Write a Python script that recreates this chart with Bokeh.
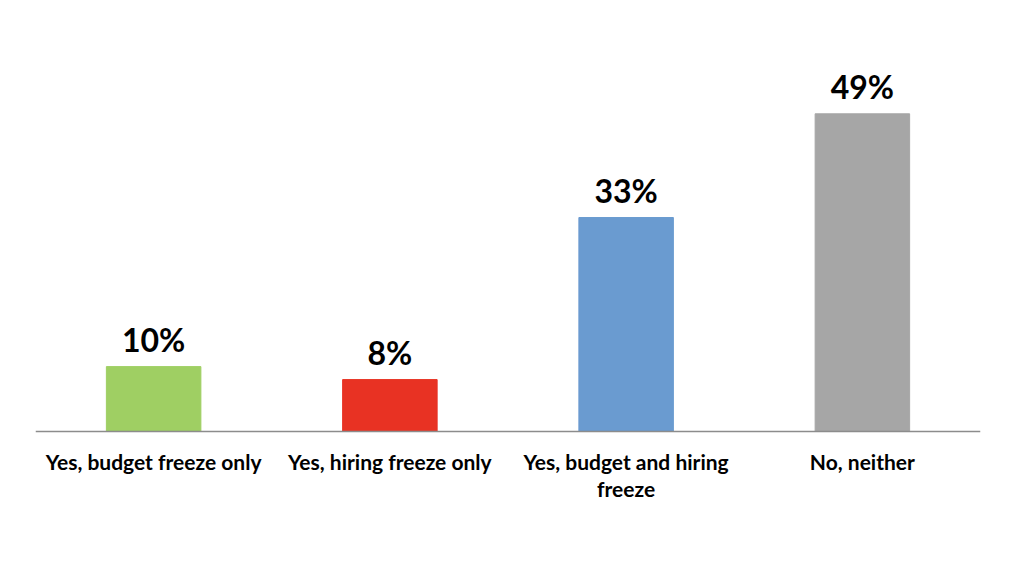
from bokeh.plotting import figure
from bokeh.models import ColumnDataSource, LabelSet, Span
from bokeh.core.properties import value
from bokeh.embed import file_html
from bokeh.resources import INLINE

categories = ["Yes, budget freeze only", "Yes, hiring freeze only",
              "Yes, budget and hiring freeze", "No, neither"]
tick_line1 = ["Yes, budget freeze only", "Yes, hiring freeze only",
              "Yes, budget and hiring", "No, neither"]
tick_line2 = ["", "", "freeze", ""]
values = [10, 8, 33, 49]
labels = ["10%", "8%", "33%", "49%"]
colors = ["#9FCF63", "#E83223", "#6A9BD0", "#A6A6A6"]

src = ColumnDataSource(dict(cat=categories, val=values, lab=labels, col=colors,
                            t1=tick_line1, t2=tick_line2, zero=[0] * len(values)))

p = figure(x_range=categories, y_range=(-19.6, 60), width=1008, height=558,
           output_backend="svg", toolbar_location=None,
           min_border_left=35, min_border_right=28, min_border_top=42,
           min_border_bottom=0)
p.vbar(x="cat", top="val", width=0.4, color="col", source=src)

p.add_layout(Span(location=0, dimension="width", line_color="#8C8C8C", line_width=1.5))

p.add_layout(LabelSet(x="cat", y="val", text="lab", source=src,
                      text_align="center", text_baseline="alphabetic", y_offset=15,
                      text_font=value("Lato"), text_font_style="bold",
                      text_font_size="32px", text_color="black"))

for col, off in (("t1", -18), ("t2", -45)):
    p.add_layout(LabelSet(x="cat", y="zero", text=col, source=src,
                          text_align="center", text_baseline="top", y_offset=off,
                          text_font=value("Lato"), text_font_style="bold",
                          text_font_size="21px", text_color="black"))

p.xaxis.visible = False
p.yaxis.visible = False
p.xgrid.visible = False
p.ygrid.visible = False
p.outline_line_color = None
p.x_range.range_padding = 0.0

open("out.html", "w").write(file_html(p, INLINE))
